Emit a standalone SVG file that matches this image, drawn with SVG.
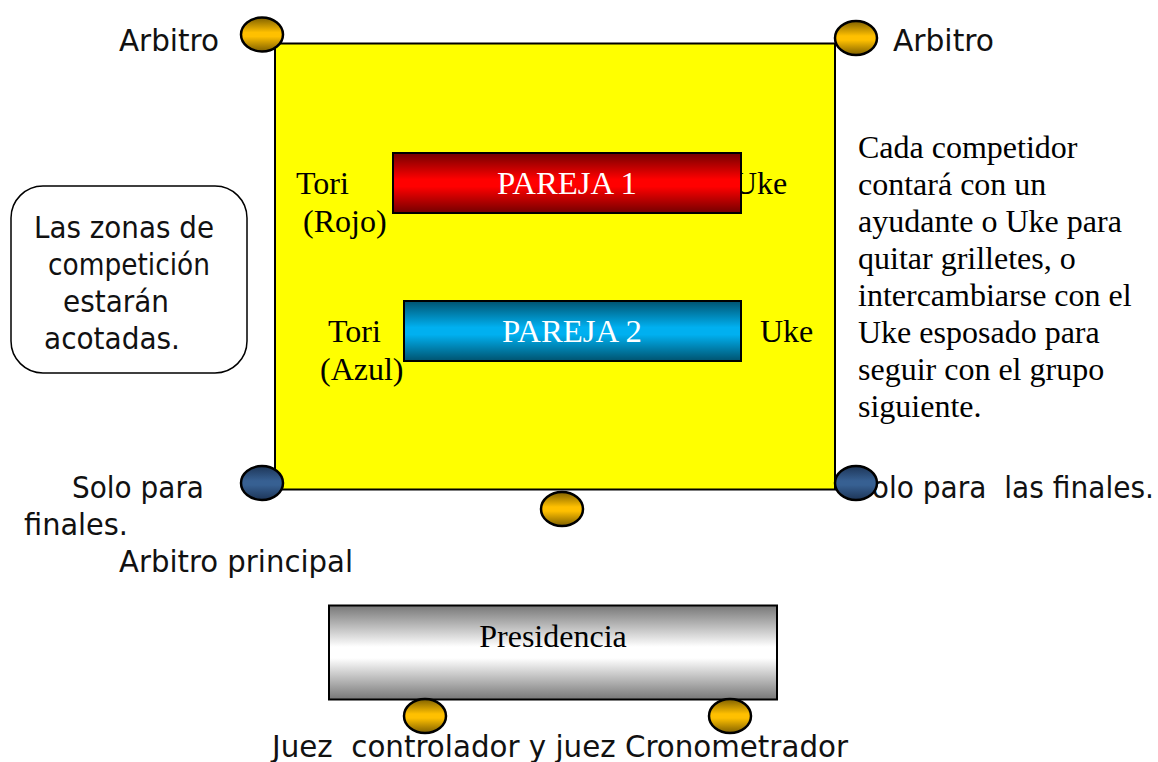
<svg xmlns="http://www.w3.org/2000/svg" width="1158" height="762" viewBox="0 0 1158 762">
<style>
.s{font-family:"DejaVu Sans","Liberation Sans",sans-serif;font-size:30px;fill:#111}
.t{font-family:"Liberation Serif",serif;font-size:32px;fill:#000}
.w{fill:#fff}
.o{stroke:#000;stroke-width:2.5}
.r{stroke:#000;stroke-width:2}
</style>
<defs>
<linearGradient id="gold" x1="0" y1="0" x2="0" y2="1"><stop offset="0" stop-color="#7f6000"/><stop offset=".44" stop-color="#ffc000"/><stop offset=".56" stop-color="#ffc000"/><stop offset="1" stop-color="#7f6000"/></linearGradient>
<linearGradient id="navy" x1="0" y1="0" x2="0" y2="1"><stop offset="0" stop-color="#1d3557"/><stop offset=".44" stop-color="#376092"/><stop offset=".56" stop-color="#376092"/><stop offset="1" stop-color="#1d3557"/></linearGradient>
<linearGradient id="red" x1="0" y1="0" x2="0" y2="1"><stop offset="0" stop-color="#730000"/><stop offset=".44" stop-color="#ff0000"/><stop offset=".56" stop-color="#ff0000"/><stop offset="1" stop-color="#730000"/></linearGradient>
<linearGradient id="blue" x1="0" y1="0" x2="0" y2="1"><stop offset="0" stop-color="#00536f"/><stop offset=".44" stop-color="#00b0f0"/><stop offset=".56" stop-color="#00b0f0"/><stop offset="1" stop-color="#00536f"/></linearGradient>
<linearGradient id="grey" x1="0" y1="0" x2="0" y2="1"><stop offset="0" stop-color="#777"/><stop offset=".44" stop-color="#fff"/><stop offset=".56" stop-color="#fff"/><stop offset="1" stop-color="#777"/></linearGradient>
</defs>
<g id="zona"><rect x="275" y="43.500" width="560" height="446" fill="#ff0" class="r"/></g>
<g id="labels-sans" class="s">
<text x="119" y="51" textLength="100" lengthAdjust="spacingAndGlyphs">Arbitro</text>
<text x="893" y="51" textLength="101" lengthAdjust="spacingAndGlyphs">Arbitro</text>
<text x="72" y="498" textLength="132" lengthAdjust="spacingAndGlyphs">Solo para</text>
<text x="24" y="535" textLength="104" lengthAdjust="spacingAndGlyphs">finales.</text>
<text x="119" y="572" textLength="234" lengthAdjust="spacingAndGlyphs">Arbitro principal</text>
<text x="854" y="498" textLength="300" lengthAdjust="spacingAndGlyphs">Solo para&#160; las finales.</text>
<text x="272" y="757" textLength="576" lengthAdjust="spacingAndGlyphs">Juez&#160; controlador y juez Cronometrador</text>
</g>
<g id="labels-serif" class="t">
<text x="296" y="194">Tori</text>
<text x="303" y="232">(Rojo)</text>
<text x="328" y="342">Tori</text>
<text x="320" y="380">(Azul)</text>
<text x="734" y="194">Uke</text>
<text x="760" y="342">Uke</text>
<text x="858" y="158">Cada competidor</text>
<text x="858" y="195">contará con un</text>
<text x="858" y="232">ayudante o Uke para</text>
<text x="858" y="269">quitar grilletes, o</text>
<text x="858" y="306">intercambiarse con el</text>
<text x="858" y="343">Uke esposado para</text>
<text x="858" y="380">seguir con el grupo</text>
<text x="858" y="417">siguiente.</text>
</g>
<g id="pareja1"><rect x="393" y="153" width="348" height="60" fill="url(#red)" class="r"/><text x="567" y="194" text-anchor="middle" class="t w" textLength="140" lengthAdjust="spacingAndGlyphs">PAREJA 1</text></g>
<g id="pareja2"><rect x="404" y="301" width="337" height="60" fill="url(#blue)" class="r"/><text x="572" y="342" text-anchor="middle" class="t w" textLength="140" lengthAdjust="spacingAndGlyphs">PAREJA 2</text></g>
<g id="presidencia"><rect x="329" y="605.500" width="448" height="94" fill="url(#grey)" class="r"/><text x="553" y="647" text-anchor="middle" class="t">Presidencia</text></g>
<g id="nota"><rect x="11" y="186" width="236" height="187" rx="32" fill="#fff" stroke="#000" stroke-width="1.500"/>
<g class="s">
<text x="34" y="238" textLength="180" lengthAdjust="spacingAndGlyphs">Las zonas de</text>
<text x="48" y="275" textLength="162" lengthAdjust="spacingAndGlyphs">competición</text>
<text x="63" y="312" textLength="106" lengthAdjust="spacingAndGlyphs">estarán</text>
<text x="44" y="349" textLength="136" lengthAdjust="spacingAndGlyphs">acotadas.</text>
</g></g>
<g id="arbitro-tl"><ellipse cx="262" cy="34.500" rx="21" ry="17" fill="url(#gold)" class="o"/></g>
<g id="arbitro-tr"><ellipse cx="856" cy="38" rx="21" ry="17" fill="url(#gold)" class="o"/></g>
<g id="final-l"><ellipse cx="262" cy="483" rx="21" ry="17" fill="url(#navy)" class="o"/></g>
<g id="final-r"><ellipse cx="856" cy="483" rx="21" ry="17" fill="url(#navy)" class="o"/></g>
<g id="arbitro-principal"><ellipse cx="562" cy="509" rx="21" ry="17" fill="url(#gold)" class="o"/></g>
<g id="juez"><ellipse cx="425" cy="716" rx="21" ry="17" fill="url(#gold)" class="o"/></g>
<g id="crono"><ellipse cx="730" cy="716" rx="21" ry="17" fill="url(#gold)" class="o"/></g>
<g id="connectors"/>
</svg>
